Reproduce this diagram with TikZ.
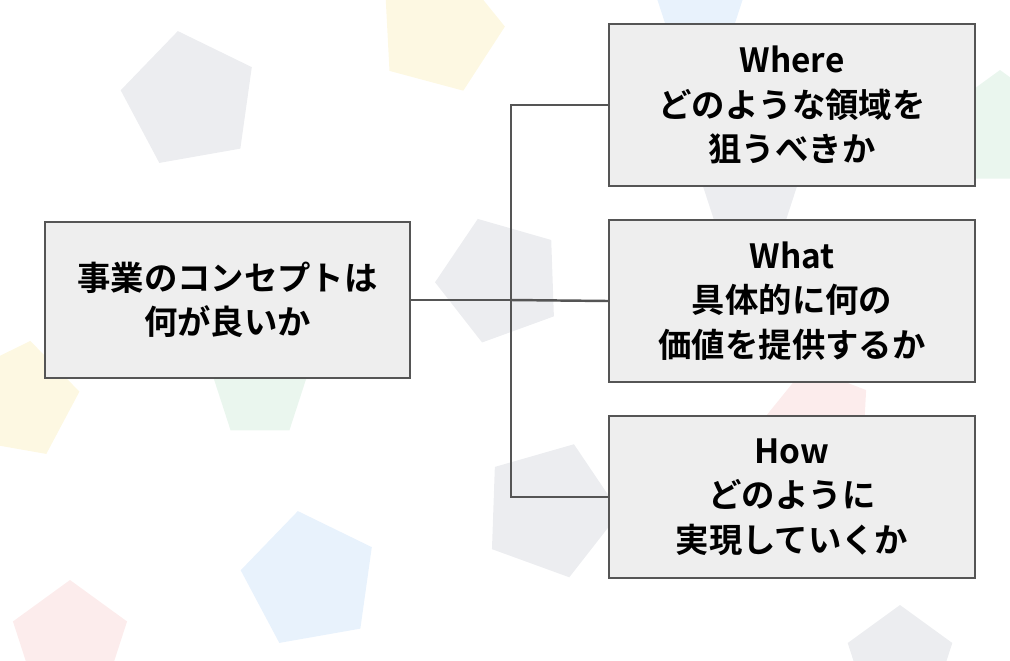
\documentclass[tikz,border=0pt]{standalone}
\usepackage{fontspec}
\newfontfamily\cjk{Noto Sans CJK JP Bold}
\usetikzlibrary{positioning,shapes.geometric}
\definecolor{boxfill}{RGB}{238,238,238}
\definecolor{boxline}{RGB}{85,85,85}
\definecolor{pgray}{RGB}{236,237,240}
\definecolor{pyellow}{RGB}{253,248,226}
\definecolor{pblue}{RGB}{232,242,252}
\definecolor{pgreen}{RGB}{234,246,238}
\definecolor{pred}{RGB}{252,236,236}
\tikzstyle{box} = [draw=boxline, fill=boxfill, line width=0.7pt, align=center, font=\cjk\fontsize{9.5}{12.6}\selectfont, inner sep=0pt]
\tikzstyle{deco} = [regular polygon, regular polygon sides=5, inner sep=0pt]
\tikzstyle{link} = [draw=boxline, line width=0.7pt]

\begin{document}
\begin{tikzpicture}
\useasboundingbox (0,0) rectangle (10.1,6.6);
% background pentagons
\node[deco, fill=pgray, minimum size=1.4cm, rotate=10] (p1) at (1.9,5.6) {};
\node[deco, fill=pyellow, minimum size=1.3cm, rotate=-15] (p2) at (4.4,6.3) {};
\node[deco, fill=pblue, minimum size=1.0cm] (p3) at (7.0,6.6) {};
\node[deco, fill=pgray, minimum size=1.3cm, rotate=20] (p4) at (5.0,3.8) {};
\node[deco, fill=pgreen, minimum size=1.2cm] (p5) at (10.0,5.3) {};
\node[deco, fill=pyellow, minimum size=1.2cm, rotate=-10] (p6) at (0.2,2.6) {};
\node[deco, fill=pgreen, minimum size=1.0cm] (p7) at (2.6,2.7) {};
\node[deco, fill=pgray, minimum size=1.0cm] (p8) at (7.5,4.6) {};
\node[deco, fill=pred, minimum size=1.1cm, rotate=15] (p9) at (8.2,2.4) {};
\node[deco, fill=pgray, minimum size=1.4cm, rotate=-20] (p10) at (5.5,1.5) {};
\node[deco, fill=pblue, minimum size=1.4cm, rotate=10] (p11) at (3.1,0.8) {};
\node[deco, fill=pred, minimum size=1.2cm] (p12) at (0.7,0.2) {};
\node[deco, fill=pgray, minimum size=1.1cm] (p13) at (9.0,0.0) {};

% concept and its three questions
\node[box, minimum width=3.65cm, minimum height=1.56cm] (concept) at (2.275,3.6) {事業のコンセプトは\\何が良いか};
\node[box, minimum width=3.66cm, minimum height=1.62cm] (where) at (7.92,5.55) {Where\\どのような領域を\\狙うべきか};
\node[box, minimum width=3.66cm, minimum height=1.62cm] (what) at (7.92,3.59) {What\\具体的に何の\\価値を提供するか};
\node[box, minimum width=3.66cm, minimum height=1.62cm] (how) at (7.92,1.63) {How\\どのように\\実現していくか};

% tree connectors
\coordinate (fork) at (5.11,3.6);
\draw[link] (concept.east) -- (fork);
\draw[link] (where.west) -| (fork) |- (how.west);
\draw[link] (fork) -- (what.west);
\end{tikzpicture}
\end{document}
